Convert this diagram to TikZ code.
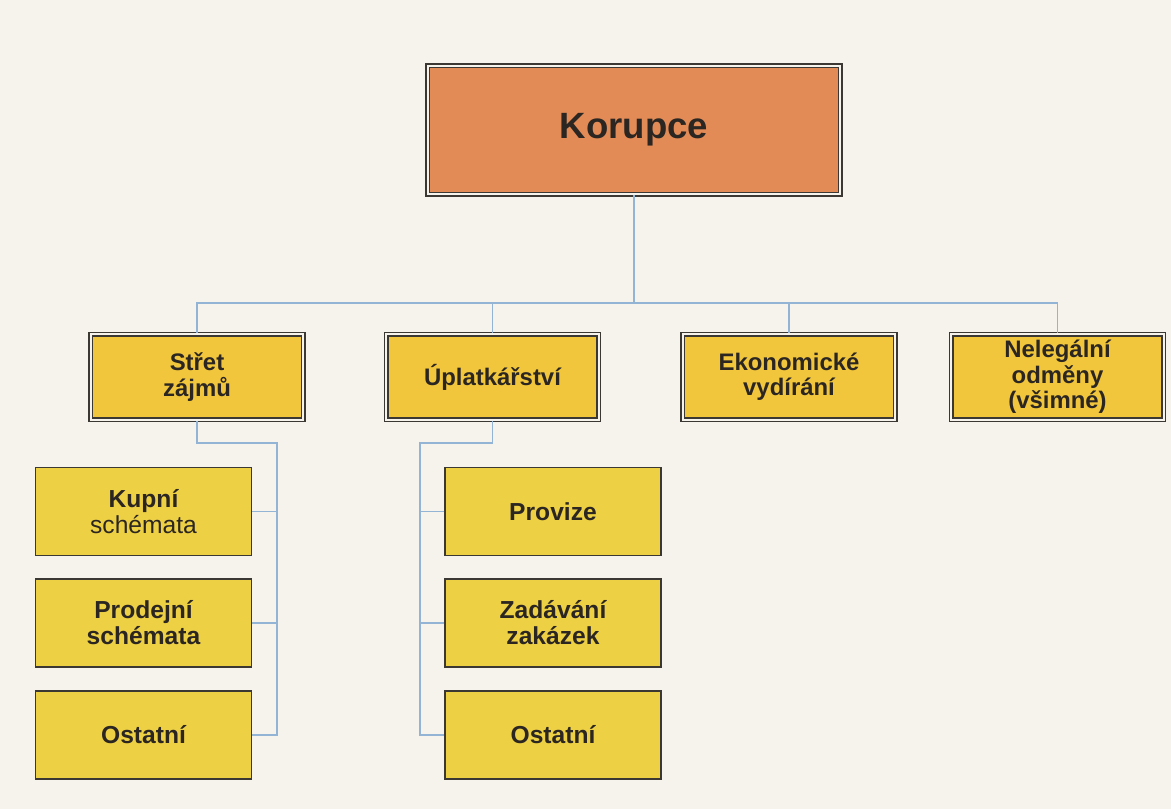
\documentclass[tikz,border=0pt]{standalone}
\usepackage{fontspec}
\setmainfont{Liberation Sans}
\usepackage{xcolor}
\usepackage{tikz}
\definecolor{paper}{HTML}{F6F3ED}
\definecolor{ink}{HTML}{2B2622}
\definecolor{frame}{HTML}{3B3733}
\definecolor{orange}{HTML}{E28B56}
\definecolor{gold}{HTML}{F1C63C}
\definecolor{lemon}{HTML}{EED044}
\definecolor{link}{HTML}{93B4D4}
\tikzset{
  conn/.style={draw=link, line width=1pt},
  top/.style={draw=frame, double=paper, line width=1.1pt, double distance=1.5pt,
    fill=orange, minimum width=10.31cm, minimum height=3.21cm,
    font=\fontsize{26}{30}\selectfont\bfseries},
  lvl/.style={draw=frame, double=paper, line width=1.1pt, double distance=1.5pt,
    fill=gold, minimum width=5.31cm, minimum height=2.14cm, align=center,
    font=\fontsize{17}{18}\selectfont\bfseries},
  sub/.style={draw=frame, line width=1pt, fill=lemon,
    minimum width=5.39cm, minimum height=2.2cm, align=center,
    font=\fontsize{17.5}{18.5}\selectfont\bfseries},
  every node/.style={text=ink, inner sep=2pt}
}
\begin{document}
\begin{tikzpicture}[x=0.025cm, y=-0.025cm]
  \fill[paper] (0,0) rectangle (1171,809);
  \useasboundingbox (0,0) rectangle (1171,809);

  \node[top] (kor) at (634,130) {Korupce};

  \node[lvl] (stret) at (197,377) {Střet\\zájmů};
  \node[lvl] (uplat) at (492.5,377) {Úplatkářství};
  \node[lvl] (ekon) at (789,377) {Ekonomické\\vydírání};
  \node[lvl] (neleg) at (1057.5,377) {Nelegální\\odměny\\(všimné)};

  \node[sub] (kupni) at (143.5,511.5) {Kupní\\\mdseries schémata};
  \node[sub] (prodej) at (143.5,623) {Prodejní\\schémata};
  \node[sub] (ostat1) at (143.5,735) {Ostatní};
  \node[sub] (proviz) at (553,511.5) {Provize};
  \node[sub] (zadav) at (553,623) {Zadávání\\zakázek};
  \node[sub] (ostat2) at (553,735) {Ostatní};

  \coordinate (bus) at (634,303);
  \coordinate (railL) at (277,443);
  \coordinate (railU) at (420,443);

  % top level to the four groups
  \foreach \n in {stret,uplat,ekon,neleg}
    \draw[conn] (kor.south) -- (bus) -| (\n.north);

  % second level branches
  \draw[conn] (stret.south) |- (railL) -- (railL |- ostat1.east) -- (ostat1.east);
  \foreach \n in {kupni,prodej}
    \draw[conn] (\n.east) -- (\n.east -| railL);
  \draw[conn] (uplat.south) |- (railU) -- (railU |- ostat2.west) -- (ostat2.west);
  \foreach \n in {proviz,zadav}
    \draw[conn] (\n.west) -- (\n.west -| railU);
\end{tikzpicture}
\end{document}
